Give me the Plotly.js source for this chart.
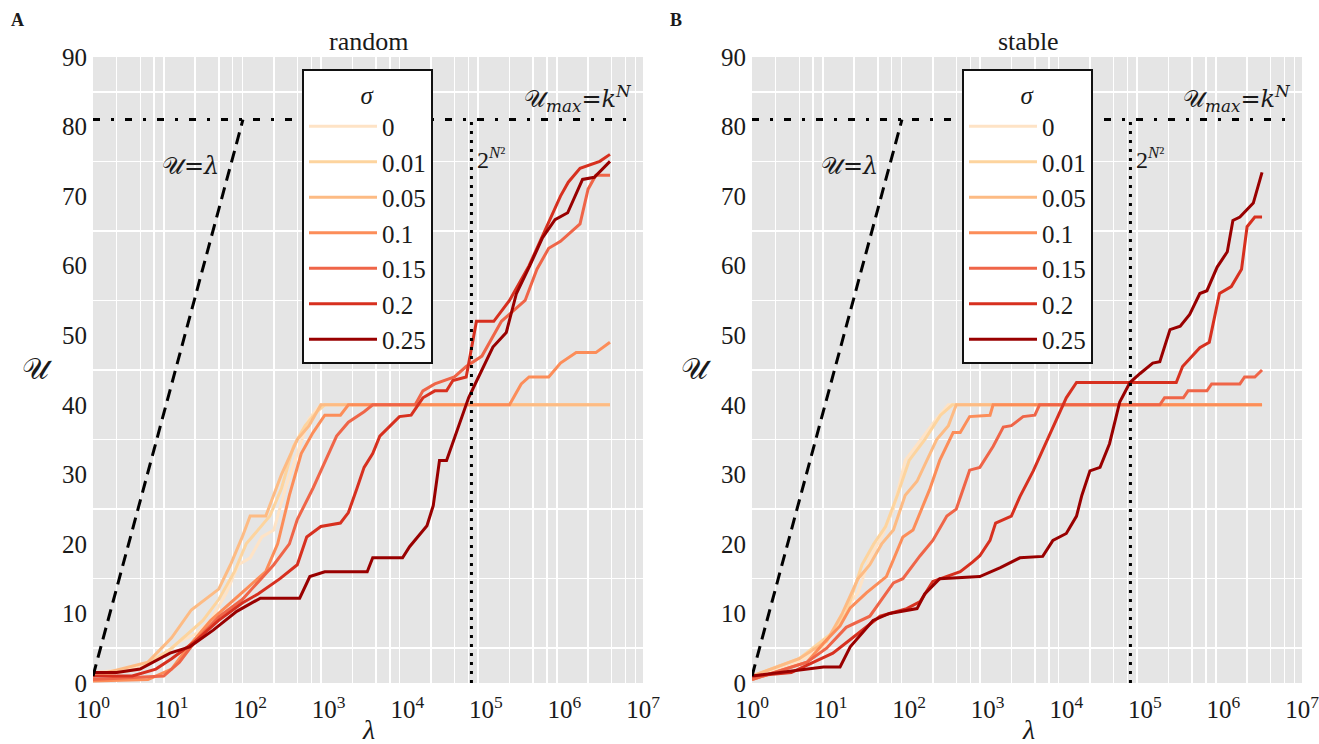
<!DOCTYPE html>
<html><head><meta charset="utf-8">
<script src="https://cdn.plot.ly/plotly-3.0.1.min.js"></script>
<style>body{margin:0;background:#fff}#chart{width:1319px;height:744px}</style>
</head><body><div id="chart"></div>
<script>
const sigmaLabels = ['0', '0.01', '0.05', '0.1', '0.15', '0.2', '0.25'];
const sigmaColors = ['#fee3c6', '#fdd49e', '#fdbb84', '#fc8d59', '#ef6548', '#d7301f', '#990000'];

// ---------- Panel A: random ----------
const A_lam_0 = [1, 3.16, 7.94, 12.6, 20.0, 31.6, 50.1, 70.8, 100, 141, 200, 282, 398, 562, 794, 3.8e6];
const A_U_0   = [1.5, 2, 4, 6, 7, 9, 13, 17, 18, 21, 22, 28, 33, 38, 40, 40];
const A_lam_1 = [1, 3.98, 10, 15.8, 25.1, 39.8, 63.1, 89.1, 126, 178, 251, 355, 501, 708, 891, 3.8e6];
const A_U_1   = [1, 2, 5, 7, 9, 12, 16, 20, 22, 24, 28, 34, 37, 39, 40, 40];
const A_lam_2 = [1, 5.01, 10, 17.8, 39.8, 56.2, 79.4, 100, 158, 251, 398, 562, 794, 3.8e6];
const A_U_2   = [1, 3, 6.5, 10.5, 13.5, 17, 21, 24, 24, 30, 35, 37, 40, 40];
const A_lam_3 = [1, 5.01, 10, 15.8, 31.6, 63.1, 100, 158, 224, 316, 447, 631, 891, 1410, 1780, 2.0e5, 2.82e5, 3.55e5, 6.31e5, 8.91e5, 1.41e6, 2.51e6, 3.8e6];
const A_U_3   = [0.3, 0.5, 2, 5, 9, 12, 14, 16, 20, 27, 33, 36, 38.5, 38.5, 40, 40, 43, 44, 44, 46, 47.5, 47.5, 49];
const A_lam_4 = [1, 7.94, 12.6, 20.0, 39.8, 79.4, 126, 200, 316, 398, 631, 1000, 1260, 1780, 2820, 3630, 1.26e4, 1.58e4, 2.24e4, 3.98e4, 5.62e4, 8.91e4, 1.58e5, 3.16e5, 4.47e5, 6.31e5, 8.91e5, 1.58e6, 2.0e6, 2.51e6, 3.8e6];
const A_U_4   = [0.5, 1, 3, 6, 9.5, 12, 14.5, 17, 20, 23.5, 28, 33, 35.5, 37.5, 39, 40, 40, 42, 43, 44, 45.5, 47, 52, 55, 59.5, 62.5, 63.5, 66, 71, 73, 73];
const A_lam_5 = [1, 3.16, 6.31, 10, 20.0, 39.8, 79.4, 126, 240, 398, 525, 794, 1410, 1780, 2290, 2820, 3630, 4470, 7940, 1.12e4, 1.58e4, 2.24e4, 3.16e4, 3.80e4, 5.62e4, 7.59e4, 1.26e5, 2.0e5, 3.55e5, 5.62e5, 8.91e5, 1.12e6, 1.58e6, 2.82e6, 3.8e6];
const A_U_5   = [1, 1, 2, 3.5, 6, 9, 11.5, 12.8, 15, 17, 21, 22.5, 23, 24.5, 28, 31, 33, 35.5, 38.3, 38.5, 41, 42, 42, 43.5, 44, 52, 52, 55, 60, 65, 70, 72, 74, 75, 76];
const A_lam_6 = [1, 2.0, 3.98, 9.55, 17.0, 33.9, 67.6, 135, 427, 575, 891, 3090, 3630, 8710, 1.07e4, 1.78e4, 2.14e4, 2.57e4, 3.16e4, 4.68e4, 6.03e4, 7.76e4, 1.23e5, 1.82e5, 2.45e5, 3.63e5, 5.25e5, 7.59e5, 1.10e6, 1.70e6, 2.40e6, 3.8e6];
const A_U_6   = [1.5, 1.5, 2, 4.3, 5.2, 7.6, 10.3, 12.2, 12.2, 15.3, 16, 16, 18, 18, 19.6, 22.6, 25.5, 32, 32, 37.5, 41, 43.6, 48.3, 50.4, 56, 60, 64, 66.6, 67.6, 72.4, 72.7, 75];

// ---------- Panel B: stable ----------
const B_lam_0 = [1, 3.16, 7.94, 14.1, 22.4, 31.6, 44.7, 63.1, 89.1, 141, 224, 316, 3.1e6];
const B_U_0   = [0.8, 2.5, 5, 10, 13, 18, 21, 25, 32, 35, 38, 40, 40];
const B_lam_1 = [1, 3.98, 10, 15.8, 25.1, 35.5, 50.1, 70.8, 100, 158, 251, 355, 3.1e6];
const B_U_1   = [1, 3.5, 7, 10, 17, 20, 22.5, 27, 32, 35, 38.5, 40, 40];
const B_lam_2 = [1, 3.98, 8.91, 14.1, 22.4, 31.6, 44.7, 63.1, 89.1, 126, 224, 316, 398, 3.1e6];
const B_U_2   = [1, 3.5, 6, 10, 15, 17, 20, 22, 27, 29, 35, 37, 40, 40];
const B_lam_3 = [1, 5.01, 8.91, 13.2, 17.8, 28.8, 51.3, 83.2, 112, 182, 245, 363, 447, 589, 1070, 1170, 3.1e6];
const B_U_3   = [0.5, 3, 6.2, 8.2, 10.8, 13, 15.3, 21, 22, 27.8, 32, 36, 36, 38.3, 38.5, 40, 40];
const B_lam_4 = [1, 5.01, 8.91, 15.8, 31.6, 63.1, 83.2, 138, 200, 302, 398, 589, 794, 1170, 1580, 2000, 2820, 3980, 4570, 1.55e5, 1.78e5, 3.09e5, 3.55e5, 6.17e5, 7.08e5, 1.62e6, 1.86e6, 2.51e6, 3.1e6];
const B_U_4   = [0.5, 3, 5, 8, 9.6, 14.4, 15, 18.3, 20.5, 24, 25, 30.6, 31, 34, 36.8, 37, 38.3, 38.5, 40, 40, 41, 41, 42, 42, 43, 43, 44, 44, 45];
const B_lam_5 = [1, 3.16, 10.7, 28.8, 42.7, 93.3, 138, 200, 447, 646, 794, 1070, 1260, 2000, 2570, 3800, 5250, 7590, 1.0e4, 1.35e4, 2.51e5, 3.02e5, 5.01e5, 6.61e5, 8.91e5, 1.26e6, 1.70e6, 2.0e6, 2.51e6, 3.1e6];
const B_U_5   = [1, 1.5, 4.3, 8, 9.6, 10.7, 11.7, 14.6, 16, 17.4, 18.3, 20.5, 23, 24, 26.8, 30.5, 34, 38, 41, 43.2, 43.2, 45.5, 48.2, 49, 56, 57, 59.5, 65.6, 67, 67];
const B_lam_6 = [1, 8.13, 13.2, 17.8, 34.7, 56.2, 126, 158, 245, 794, 1450, 2570, 5010, 6760, 1.0e4, 1.35e4, 1.58e4, 2.0e4, 2.69e4, 3.55e4, 4.79e4, 6.46e4, 8.71e4, 1.26e5, 1.55e5, 2.09e5, 2.82e5, 3.72e5, 5.01e5, 6.17e5, 8.32e5, 1.12e6, 1.32e6, 1.62e6, 2.40e6, 3.1e6];
const B_U_6   = [1, 2.3, 2.3, 5.2, 9, 10, 10.7, 12.8, 15, 15.3, 16.6, 18, 18.2, 20.5, 21.5, 24, 27, 30.5, 31, 34.4, 40.4, 43.2, 44.5, 46, 46.2, 50.8, 51.3, 53, 56, 56.4, 59.8, 62, 66.5, 67, 69, 73.4];

// ---------- Reference lines ----------
const identLam = [1, 81];          // U = lambda
const identU   = [1, 81];
const umax     = 81;               // U_max = k^N
const umaxLam  = [1, 7.5e6];
const twoN2    = 65536;            // 2^(N^2)
const twoN2U   = [0, 81];

const xTickVals = [1, 10, 100, 1e3, 1e4, 1e5, 1e6, 1e7];
const xTickText = ['10<sup>0</sup>', '10<sup>1</sup>', '10<sup>2</sup>', '10<sup>3</sup>', '10<sup>4</sup>', '10<sup>5</sup>', '10<sup>6</sup>', '10<sup>7</sup>'];
const yTickVals = [0, 10, 20, 30, 40, 50, 60, 70, 80, 90];

const A_lams = [A_lam_0, A_lam_1, A_lam_2, A_lam_3, A_lam_4, A_lam_5, A_lam_6];
const A_Us   = [A_U_0, A_U_1, A_U_2, A_U_3, A_U_4, A_U_5, A_U_6];
const B_lams = [B_lam_0, B_lam_1, B_lam_2, B_lam_3, B_lam_4, B_lam_5, B_lam_6];
const B_Us   = [B_U_0, B_U_1, B_U_2, B_U_3, B_U_4, B_U_5, B_U_6];

const SERIF = 'Liberation Serif, Times New Roman, serif';
const MATH = 'DejaVu Serif, Liberation Serif, serif';
const INK = '#1a1a1a';
const W = 1319, H = 744;
const px = v => v / W, py = v => 1 - v / H;

const traces = [];
function addPanel(lams, Us, xa, ya, leg, tag) {
  for (let i = 0; i < lams.length; i++) {
    traces.push({
      type: 'scatter', mode: 'lines', x: lams[i], y: Us[i], xaxis: xa, yaxis: ya,
      name: sigmaLabels[i], legend: leg, legendgroup: tag + i,
      line: { color: sigmaColors[i], width: 3 }, hoverinfo: 'skip'
    });
  }
  traces.push({ type: 'scatter', mode: 'lines', x: identLam, y: identU, xaxis: xa, yaxis: ya, showlegend: false,
    line: { color: '#000', width: 3, dash: '12px,7px' }, hoverinfo: 'skip' });
  traces.push({ type: 'scatter', mode: 'lines', x: umaxLam, y: [umax, umax], xaxis: xa, yaxis: ya, showlegend: false,
    line: { color: '#000', width: 3, dash: '7px,11px,3px,11px' }, hoverinfo: 'skip' });
  traces.push({ type: 'scatter', mode: 'lines', x: [twoN2, twoN2], y: twoN2U, xaxis: xa, yaxis: ya, showlegend: false,
    line: { color: '#000', width: 3, dash: '3px,6px' }, hoverinfo: 'skip' });
}
addPanel(A_lams, A_Us, 'x', 'y', 'legend', 'A');
addPanel(B_lams, B_Us, 'x2', 'y2', 'legend2', 'B');

const gridX = [];
for (let e = 0; e < 7; e++) for (const m of [2, 4, 6, 8]) gridX.push(m * Math.pow(10, e));
const gridY = [5, 15, 25, 35, 45, 55, 65, 75, 85];

function xaxis(domain, anchor) {
  return {
    type: 'log', domain, range: [0, 7], tickmode: 'array', tickvals: xTickVals, ticktext: xTickText,
    showgrid: false, zeroline: false, showline: false, ticks: '', fixedrange: true, ticklabelstandoff: 9,
    ticklabeloverflow: 'allow',
    tickfont: { family: SERIF, size: 25, color: INK },
    minor: { tickmode: 'array', tickvals: gridX, showgrid: true, gridcolor: '#ffffff', gridwidth: 1.5, ticks: '' },
    anchor
  };
}
function yaxis(anchor) {
  return {
    domain: [py(683), py(57)], range: [0, 90], tickmode: 'array', tickvals: yTickVals,
    showgrid: false, zeroline: false, showline: false, ticks: '', fixedrange: true, ticklabelstandoff: 5,
    tickfont: { family: SERIF, size: 25, color: INK },
    minor: { tickmode: 'array', tickvals: gridY, showgrid: true, gridcolor: '#ffffff', gridwidth: 1.5, ticks: '' },
    anchor
  };
}
function legend(xpx) {
  return {
    x: px(xpx), y: py(69), xanchor: 'left', yanchor: 'top', bgcolor: '#ffffff', bordercolor: '#111', borderwidth: 2,
    font: { family: SERIF, size: 25, color: INK }, tracegroupgap: 0, itemwidth: 68,
    title: { text: '<i>σ</i>', side: 'top center', font: { family: SERIF, size: 25, color: INK } }
  };
}

const ann = [];
function txt(x, y, text, size, opts) {
  ann.push(Object.assign({ xref: 'paper', yref: 'paper', x: px(x), y: py(y), text, showarrow: false,
    font: { family: SERIF, size, color: INK }, xanchor: 'center', yanchor: 'middle' }, opts || {}));
}
const panels = [{ off: 0, label: 'A', title: 'random' }, { off: 659, label: 'B', title: 'stable' }];
for (const p of panels) {
  txt(17 + p.off, 20, '<b>' + p.label + '</b>', 18);
  txt(369 + p.off, 42, p.title, 26);
  txt(37 + p.off, 368, '𝒰', 30, { font: { family: MATH, size: 30, color: INK } });
  txt(369 + p.off, 729, '<i>λ</i>', 28);
  txt(190 + p.off, 166, '𝒰=<i>λ</i>', 24, { font: { family: MATH, size: 24, color: INK } });
  txt(578 + p.off, 98, '𝒰<sub><i>max</i></sub>=<i>k</i><sup><i>N</i></sup>', 24, { font: { family: MATH, size: 24, color: INK } });
  txt(475 + p.off, 158, '2<sup><i>N</i>²</sup>', 24, { xanchor: 'left' });
}

const layout = {
  width: W, height: H, margin: { l: 0, r: 0, t: 0, b: 0 },
  paper_bgcolor: '#ffffff', plot_bgcolor: '#e5e5e5',
  xaxis: xaxis([px(93), px(643)], 'y'), yaxis: yaxis('x'),
  xaxis2: xaxis([px(752), px(1302)], 'y2'), yaxis2: yaxis('x2'),
  legend: legend(302), legend2: legend(962),
  annotations: ann, showlegend: true
};
Plotly.newPlot('chart', traces, layout, { staticPlot: true, displayModeBar: false });
</script></body></html>
